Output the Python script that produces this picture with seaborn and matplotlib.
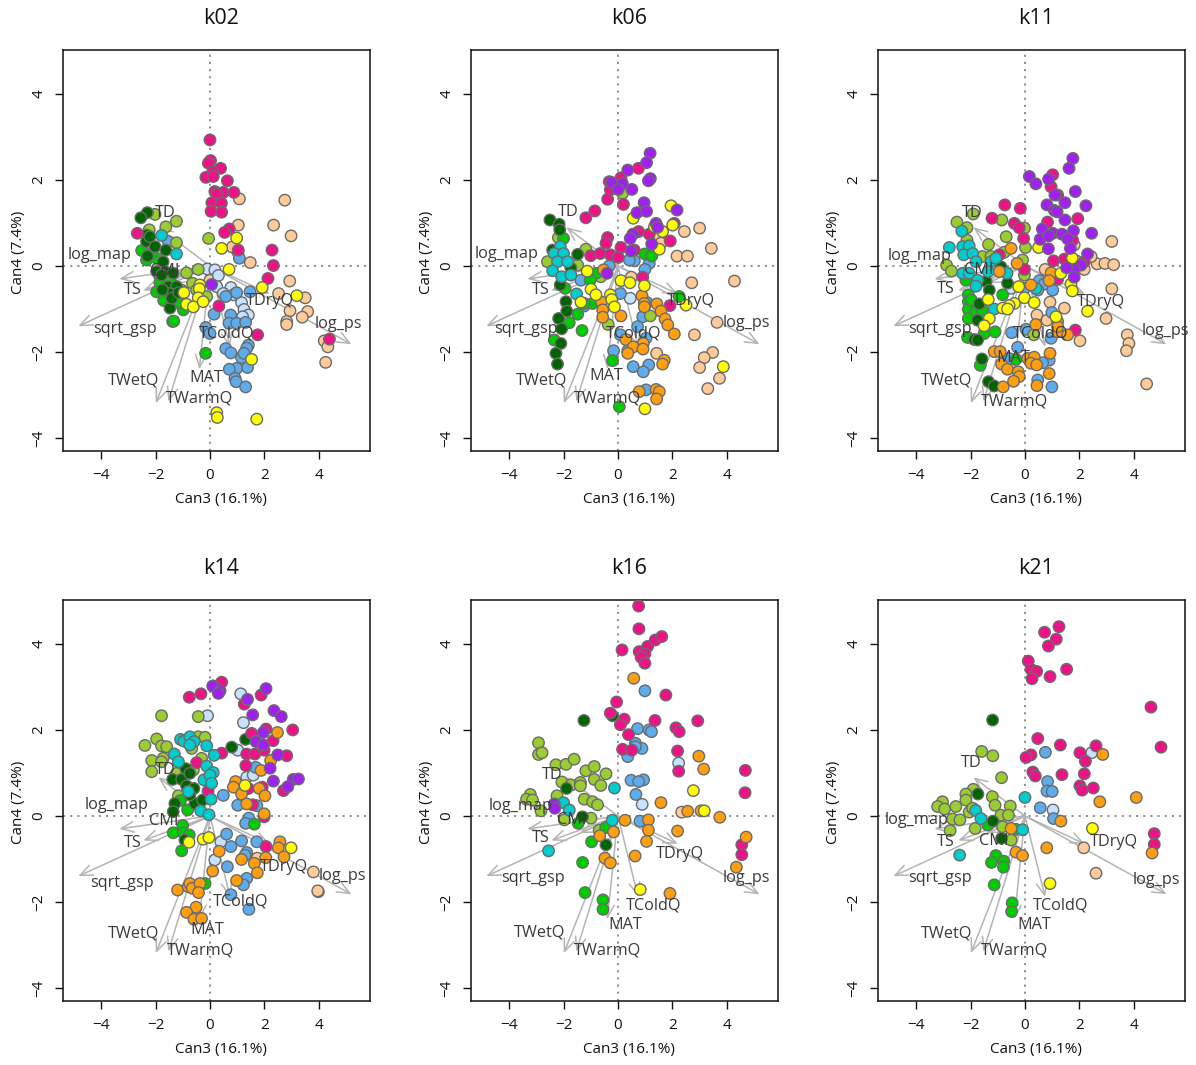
import pandas as pd
import seaborn as sns
import matplotlib
matplotlib.use("Agg")
import matplotlib.pyplot as plt

# colours of the groups, drawing order is the order here
group_colors = {
    "peach": "#FFCC99",
    "lightblue": "#C6E2FF",
    "steelblue": "#5CACEE",
    "yellowgreen": "#9ACD32",
    "green": "#00CD00",
    "darkgreen": "#006400",
    "deeppink": "#EE1289",
    "cyan": "#00CDCD",
    "orange": "#FF9F0F",
    "yellow": "#FFFF00",
    "purple": "#A020F0",
}

# k02
k02_peach = [(1.08,1.56),(2.75,1.53),(1.04,.95),(2.34,.95),(2.98,.7),(.82,.44),(1.03,.32),(1.48,.08),(0,-.33),(2.93,-.35),(2.52,-.64),(3.5,-.74),(2.94,-1.04),(3.59,-1.06),(3.39,-1.19),(2.82,-1.29),(2.82,-1.36),(4.2,-1.74),(4.33,-1.88),(4.25,-2.24)]
k02_lightblue = [(-.1,-.07),(.18,-.09),(.31,-.22),(.25,-.48),(.77,-.5),(.49,-.64),(.86,-.67),(1.16,-.85),(1.25,-1.01),(1.41,-1.14),(1.2,-1.18)]
k02_steelblue = [(-1.53,.57),(1.08,.18),(1.47,-.6),(.98,-.62),(.58,-.71),(.15,-1.12),(.76,-1.14),(.7,-1.33),(.98,-1.33),(1.31,-1.31),(-.15,-1.43),(0,-1.57),(1.41,-1.84),(1.35,-1.91),(.58,-1.92),(.77,-2.02),(1.16,-2.13),(1.25,-2.03),(1.38,-2.36),(.98,-2.38),(.71,-2.4),(.92,-2.61),(.96,-2.69),(1.31,-2.81)]
k02_yellowgreen = [(-2.02,1.2),(-1.23,1.04),(-1.62,.91),(-1.23,.54),(-.05,.64),(-.86,-.16),(-.43,-.08),(-.64,-.4),(-.49,-.56),(-1.04,-.56),(-.12,-.71),(-2.23,.84)]
k02_green = [(-2.51,.36),(-2.33,.14),(-1.96,.18),(-1.84,-.25),(-1.96,-.6),(-1.59,-.71),(-1.37,-1.29),(-.16,-2.03),(-.98,-1.02),(-1.29,-.71),(-1.84,-.4),(-1.47,-.33),(-1.33,-1.28),(-1.7,-.8),(-1.45,-.95),(-1.1,-.85),(-2.15,.3)]
k02_darkgreen = [(-2.3,1.24),(-2.54,1.12),(-2.33,.72),(-2.33,.57),(-2.02,.45),(-1.62,.37),(-2.29,.23),(-1.72,.1),(-1.96,-.13),(-1.65,-.13),(-1.35,-.17),(-1.53,-.48),(-1.23,-.48),(-1.47,-.98),(-1.78,-.21),(-1.47,-.64),(-2.21,.68),(-1.4,-.75),(-1.15,-.62),(-1.75,-.55)]
k02_deeppink = [(0,2.93),(.02,2.45),(-.06,2.39),(.39,2.27),(.1,2.19),(-.15,2.06),(.12,2.08),(.64,1.98),(.18,1.73),(.49,1.71),(.88,1.71),(.25,1.67),(.07,1.47),(.42,1.46),(.04,1.27),(.43,1.25),(-2.67,.76),(.71,.86),(.54,.78),(2.28,.37),(2.33,.01),(2.13,-.29),(.33,-.93),(1.75,-1.6),(4.39,-1.7),(1.04,.37)]
k02_cyan = [(-1.78,.71),(-1.23,.28)]
k02_orange = []
k02_yellow = [(.98,.65),(.43,.41),(.7,-.08),(1.92,-.5),(3.19,-.69),(-.37,-.44),(-.39,-.53),(-.96,-.62),(-.43,-.74),(-.86,-.89),(-.61,-.95),(-.25,-.83),(1.53,-2.17),(.25,-3.41),(.27,-3.52),(1.72,-3.56)]
k02_purple = [(.06,-.43)]

# k06
k06_peach = [(2.44,.8),(3,.88),(3.43,.41),(2.17,.23),(2.55,.23),(1.52,.68),(1.58,.53),(.49,-.26),(2.71,-.39),(4.28,-.35),(3.64,-1.31),(2.81,-1.6),(1.42,-2.03),(3.48,-2.01),(3.17,-2.13),(3,-2.36),(3.73,-2.61),(3.3,-2.85)]
k06_lightblue = [(.45,-.75)]
k06_steelblue = [(.6,.12),(.42,.14),(1.15,.06),(.99,-.08),(-.32,0),(-1.36,-.33),(.09,-.64),(-1.24,-.93),(1.07,-.85),(.91,-1.18),(.72,-1.41),(.09,-1.6),(1.03,-1.68),(-.16,-1.97),(.56,-2.34),(1.13,-2.3),(.93,-2.46),(1.03,-2.88),(.36,-1.97)]
k06_yellowgreen = [(.17,1.69),(-2.19,.66),(-1.18,.39),(-2.59,.1),(-.63,-.25),(-1.48,.02),(1.19,-1.16),(-.36,-1.36),(-2.34,.3)]
k06_green = [(-2,.64),(.99,.28),(1.24,.23),(-.81,-.17),(-1.02,-.33),(-1.94,-.52),(-1.48,-1.12),(-.93,-.87),(-1.24,-.87),(-1.79,-1.32),(-1.32,-1.5),(-2.34,-1.72),(-.2,-2.2),(.05,-3.27),(2.25,-.71)]
k06_darkgreen = [(-2.5,1.07),(-2.16,.97),(-2.14,.84),(-2.4,.37),(-1.48,.27),(-1.73,-.05),(-2.12,-.44),(-1.91,-.83),(-1.88,-1.05),(-2.18,-1.22),(-2.07,-1.46),(-2.1,-1.8),(-2.28,-2.03),(-2.22,-2.28)]
k06_deeppink = [(.11,2.05),(.75,2.27),(-.32,1.96),(-.28,1.77),(-.38,1.55),(.2,1.43),(-.85,1.28),(-1.18,1.12),(2.07,.99),(.76,.8),(1.15,.74),(1.92,.58),(-.38,.66),(-.44,.53),(.11,.43),(-1,.24),(-.65,.29),(-.28,.26),(.01,.2),(.6,.37),(.91,-.26),(1.91,-.92)]
k06_cyan = [(-2.12,.45),(-2.34,.29),(-2,.29),(-2.22,.1),(-1.85,.1),(-2.4,-.11),(-2.07,-.25),(-1.73,-.21),(-1.52,-.65)]
k06_orange = [(-.53,-.09),(.88,-.69),(.97,-.87),(.97,-.95),(1.43,-.88),(1.58,-1.05),(-.6,-.84),(-.56,-1.02),(-.56,-1.19),(.11,-1.16),(1.73,-1.23),(1.83,-1.37),(2.07,-1.58),(.29,-1.71),(.93,-1.8),(.56,-1.88),(.36,-2.03),(.92,-1.93),(1.7,-2.19),(1.64,-2.28),(.78,-2.92),(1.4,-2.87),(1.52,-2.92),(1.42,-3.09)]
k06_yellow = [(1.95,1.4),(2.01,.95),(.56,1.11),(1.34,.91),(1.64,.8),(1.52,.39),(-1.13,-.12),(.11,-.34),(.44,-.39),(.97,-.46),(-.99,-.54),(-.81,-.67),(-1.36,-.84),(-.28,-.67),(-.23,-.78),(-.13,-.95),(2.5,-.91),(3.87,-2.34),(.99,-3.32)]
k06_purple = [(1.18,2.62),(1.05,2.4),(.36,2.23),(1.19,2.03),(1.12,1.98),(-.23,1.94),(.16,1.92),(.01,1.78),(.51,1.78),(.96,1.47),(.7,1.24),(1.05,1.27),(2.17,1.3),(1.4,.99),(1.46,.9),(.55,.74),(.45,.64),(1.24,.51),(.48,.35),(-.4,-.17)]

# k11
k11_peach = [(3.19,.57),(1.81,.49),(1.88,.12),(2.18,-.08),(2.65,.05),(2.94,.06),(3.26,.03),(2.43,.22),(.74,-.08),(3.19,-.53),(.92,-.84),(1.45,-.98),(.44,-1.14),(.81,-1.26),(2.98,-1.22),(3.76,-1.6),(3.82,-1.8),(3.73,-1.97),(2.02,-1.74),(4.47,-2.74)]
k11_lightblue = [(-.51,-.52)]
k11_steelblue = [(.53,-.34),(.71,-.42),(1.02,-.56),(.47,-.56),(.99,-1.08),(.04,-1.47),(-.49,-1.55),(-.27,-1.89),(.96,-1.68),(.89,-2.19),(.65,-2.25),(-.58,-2.15),(.47,-2.65),(.99,-2.81),(-.02,-.52)]
k11_yellowgreen = [(-1.9,1.21),(-2.5,1.02),(-2.13,.89),(-.85,1.07),(-.02,.88),(-.69,.68),(-2.13,.6),(-1.34,.5),(.02,.43),(-.76,.32),(-1.56,.22),(-1.25,.22),(-.09,.14),(-2.88,.02),(-2.7,-.12),(-.02,-.21),(.32,-1.6)]
k11_green = [(-2.17,-.33),(-2.08,-.67),(-2.08,-.83),(-2.08,-1.01),(-1.8,-1.06),(-2.08,-1.22),(-.82,-.67),(-1.5,-1.57),(-1.1,-1.53),(-2.11,-1.66),(-1.64,-2.31),(-.33,-2.17),(-1.56,-1.02),(-1.97,-.79)]
k11_darkgreen = [(-.88,-.02),(-1.43,-.36),(-.64,-.4),(-1.31,-.56),(-1.68,-.88),(-1.74,-1.26),(-1.86,-1.71),(-1.74,-1.72),(-1.58,-2.16),(-1.34,-2.69),(-1.13,-2.79)]
k11_deeppink = [(1.02,2.12),(.96,1.84),(1.2,1.65),(-.74,1.42),(-.17,1.34),(-1.21,1.11),(-.39,.99),(-.21,.89),(-.05,.64),(.83,1.02),(1.94,1.1),(-.94,.26),(-.02,-.08),(1.05,.12),(1.45,.16),(1.2,-.31),(1.85,-1.49),(2.18,.1),(1.75,.6)]
k11_cyan = [(-2.78,.43),(-2.32,.81),(-2.29,.45),(-2.05,.47),(-2.25,.26),(-1.92,.29),(-1.8,.1),(-2.29,-.17),(-2.05,-.17),(-1.74,-.33),(-1.8,-.47),(-1.25,.1),(-1.07,.18),(-.66,-.17),(-1.13,-1),(-1.35,-.13),(.4,-.52)]
k11_orange = [(-.51,.41),(-.29,.06),(-.94,-.13),(.22,-.44),(.96,-.16),(.89,-.34),(1.2,-1.29),(.4,-1.36),(1.2,-1.53),(1.57,-1.6),(-1.13,-1.99),(-.91,-1.99),(.92,-2.03),(.1,-2.15),(.34,-2.12),(.22,-2.26),(.43,-2.3),(-.86,-2.28),(-.64,-2.4),(-.25,-2.46),(-.21,-2.57),(-.42,-2.68),(-.8,-2.81),(.44,-2.78),(.89,-2.5),(1.2,-1.41)]
k11_yellow = [(.5,.43),(1.74,.18),(1.32,-.17),(1.69,-.42),(1.74,-.58),(-.23,-.48),(-.02,-.74),(.34,-.85),(2.3,-1.05),(-1.35,-.78),(-.39,-.87),(-.58,-.92),(-.82,-.98),(-.64,-1),(-1.31,-1.22),(-1.5,-1.39),(1.14,-1.18)]
k11_purple = [(1.76,2.5),(1.62,2.27),(.16,2.08),(.4,1.91),(.87,2.02),(1.1,1.65),(1.85,1.73),(1.47,1.47),(.81,1.42),(1.08,1.29),(1.18,1.26),(2.24,1.4),(1.47,1.07),(.64,.86),(1.02,.76),(.56,.62),(.87,.7),(1.36,.74),(1.78,.82),(2.45,.76),(1.57,.63),(1.67,.41),(.86,.4),(2.3,.28),(2.06,.02),(1.81,-.08),(1.53,-.04),(1.81,-.26)]

# k14
k14_peach = [(1.74,-.98),(3.8,-1.3),(3.98,-1.76),(3.96,-1.74)]
k14_lightblue = [(1.13,2.84),(-.09,2.33),(1.23,2.17),(1.02,1.53),(1.35,.9),(1.59,.95),(.4,-.6),(.18,-1.02)]
k14_steelblue = [(.49,.48),(1.68,1.13),(1.02,.25),(1.72,.24),(1.43,-.05),(1.31,-.17),(.61,-.42),(1.16,-.58),(1.72,-.6),(.77,-.71),(1.35,-.85),(1.29,-.91),(.64,-1.18),(1.35,-1.45),(1.23,-1.6),(.77,-1.83),(1.43,-2.17)]
k14_yellowgreen = [(-1.78,2.33),(-.43,2.31),(-2.39,1.64),(-1.96,1.79),(-1.78,1.63),(-1.59,1.61),(-2.14,1.29),(-1.72,1.34),(-1.78,1.26),(-2.14,1.03),(-.43,1.84),(-.18,1.83),(-.67,1.57),(-.31,1.34),(-1.23,.99),(-.61,1.07),(-1.16,.47)]
k14_green = [(-1.08,.36),(-.82,.14),(-1,-.22),(-1.35,-.39),(-.98,-.39),(-.76,-.44),(-1.04,-.81),(1.63,-.19),(-.18,-1.57)]
k14_darkgreen = [(.8,1.6),(1.31,1.78),(-.89,1.1),(-1.37,.85),(-1.04,.85),(-.74,.99),(-.86,.7),(-.59,.64),(-1.29,.29),(-.55,.29),(-.27,.37),(-1.35,.1),(-.92,-.56),(-.74,.49)]
k14_deeppink = [(.43,3.11),(-.76,2.76),(-.33,2.84),(.12,3.02),(1.26,2.6),(1.88,2.81),(3.04,2),(1.53,1.92),(2.06,2.02),(2.32,1.75),(1.35,1.44),(1.65,1.44),(1.99,1.53),(2.82,1.4),(.43,1.46),(1.32,1.17),(-.49,1.24),(-.07,.58),(1.41,.64),(1.92,.67),(2.7,.59),(1.57,.26),(1.99,-.02),(2.06,-.71)]
k14_cyan = [(-1.08,1.78),(-.96,1.74),(-.74,1.84),(-.58,1.73),(-.74,1.65),(-.12,1.63),(-1.31,1.44),(-1.16,1.26),(.15,1.41),(-.12,1.16),(.12,1.01),(-.22,.84),(0,.95),(.06,.76),(-.8,.57),(.04,.39),(-.34,.12),(-.04,.03)]
k14_orange = [(2.48,1.94),(2.23,1.29),(1.88,1.06),(.94,.8),(.86,.67),(1.16,.51),(1.81,.64),(2.02,.47),(1.35,.28),(1.99,.05),(2.57,-.6),(2.51,-.74),(2.72,-.95),(.34,-.82),(1.16,-1.01),(2.05,-.97),(1.63,-1.1),(1.74,-1.32),(.1,-1.28),(.98,-1.5),(-1.19,-1.72),(-.8,-1.64),(-.74,-1.57),(-.65,-1.68),(-.37,-1.57),(-.42,-1.78),(-.51,-2.12),(-.86,-2.24),(-.59,-2.4),(-.31,-2.38)]
k14_yellow = [(1.29,.71),(2.98,-.74),(-.77,-.61),(-.25,-.54),(-.04,-.5)]
k14_purple = [(.1,3.02),(.37,2.91),(.31,2.85),(1.38,2.71),(2.06,2.96),(1.57,2.35),(2.35,2.45),(2.62,2.31),(1.96,1.94),(1.69,1.73),(1.96,1.65),(2.49,1.42),(2.21,1.11),(2.33,.81),(3.06,.85),(3.25,.86),(2.86,.68)]

# k16
k16_peach = [(2.34,.09)]
k16_lightblue = [(2.23,1.23),(.89,.27)]
k16_steelblue = [(.99,2.91),(.72,2.03),(1.14,2),(1.23,1.96),(.64,1.69),(.88,1.57),(.64,1.61),(.36,1.38),(.48,.83),(.94,.84),(.76,.8),(.66,.5),(.81,-.12)]
k16_yellowgreen = [(-2.92,1.7),(-2.92,1.43),(-2.79,1.47),(-2.28,1.19),(-1.91,1.2),(-1.61,1.32),(-1.18,1.05),(-.87,1.15),(-.44,.98),(-.87,.85),(-.63,.71),(-2.06,.79),(-1.73,.72),(-1.38,.78),(-1.38,.7),(-3.22,.5),(-3.36,.39),(-3.14,.37),(-2.24,.47),(-1.24,.39),(-.93,.33),(-.75,.26),(-2.83,.12),(-1.97,-.09),(-.99,-.05),(-.69,-.33)]
k16_green = [(-1.46,-.17),(-.45,-.27),(-.97,-.6),(-1.3,-1.08),(-1.21,-1.78),(-.55,-1.95),(-.55,-2.17)]
k16_darkgreen = [(-1.25,2.22),(-.2,2.33),(-1.89,.64),(-1.3,-.02),(-.44,-.67)]
k16_deeppink = [(.76,4.88),(.77,4.35),(.15,3.86),(.78,3.82),(1.09,3.94),(1.37,4.09),(1.61,4.17),(.99,3.77),(.85,3.69),(.99,3.55),(1.76,2.81),(-.05,2.65),(-.28,2.39),(.23,2.25),(.09,2.12),(1.36,2.22),(2.13,2.05),(2.25,1.96),(2.93,2.21),(.39,1.89),(.17,1.55),(.51,1.53),(2.19,1.51),(2.23,1.04),(4.68,1.06),(4.67,.54),(4.55,-.67),(4.55,-.9)]
k16_cyan = [(-.13,.65),(-2,.31),(-1.79,.14),(-.21,-.1),(-2.55,-.81)]
k16_orange = [(.58,3.2),(2.97,1.39),(3.15,1.09),(1.58,.31),(2.56,.11),(3.05,.12),(3.74,-.03),(.26,-.1),(1.12,-.09),(1.12,-.33),(1.05,-.59),(2.19,-.35),(-.16,-.37),(-.67,-.46),(-.48,-.98),(-.28,-1.09),(.63,-.93),(1.91,-1.8),(4.71,-.49),(4.35,-1.19)]
k16_yellow = [(2.77,.59),(3.17,.12),(.82,-1.71)]
k16_purple = [(-2.34,.28),(-2.32,.18)]

# k21
k21_peach = [(2.16,-.74),(2.61,-1.33)]
k21_lightblue = [(2.45,1.47),(1.03,.14)]
k21_steelblue = [(.75,1.48),(.83,.8),(.81,.58),(1,.57),(.56,.19),(1.05,-.06)]
k21_yellowgreen = [(-1.59,1.5),(-1.18,1.4),(-.86,.89),(-1.9,.62),(-2.17,.51),(-2.17,.37),(-1.2,.45),(-1.1,.25),(-.54,.23),(-3.03,.33),(-3.21,.22),(-2.95,.16),(-2.54,.22),(-2.05,.09),(-1.92,.18),(-.88,.02),(-.61,.02),(-2.66,-.07),(-2.39,-.09),(-2.75,-.34),(-1.83,-.29),(-.82,-.25),(-.51,-.56)]
k21_green = [(-1.37,-.21),(-.33,-.31),(-1.07,-.92),(-1.23,-1.08),(-.78,-1.05),(-.79,-1.19),(-1.13,-1.6),(-.47,-2.02),(-.49,-2.22)]
k21_darkgreen = [(-1.19,2.23),(-1.73,.51),(-1.18,-.12),(-.86,-.52)]
k21_deeppink = [(1.25,4.4),(.72,4.27),(1.15,4.11),(.86,3.95),(.12,3.6),(.22,3.41),(.43,3.36),(.26,3.19),(.92,3.24),(1.53,3.41),(4.63,2.53),(5,1.6),(.47,1.8),(1.3,1.65),(2.61,1.63),(.22,1.42),(.04,1.36),(2.02,1.47),(2.22,1.27),(.29,1.02),(.38,.93),(1.36,.96),(2.18,.98),(2.02,.7),(2.1,.6),(2.51,.65),(4.75,-.41),(4.75,-.66)]
k21_cyan = [(0,.43),(-1.81,.13),(-1.62,-.06),(-.09,-.32),(-2.4,-.91)]
k21_orange = [(2.86,1.43),(2.75,.33),(4.09,.43),(1.32,-.12),(-.51,-.29),(.8,-.74),(-.33,-.84),(-.09,-.92),(4.67,-.86)]
k21_yellow = [(2.48,-.29),(.92,-1.57)]
k21_purple = []

panel_names = ["k02", "k06", "k11", "k14", "k16", "k21"]

# biplot arrows, same in every panel
arrow_names = ["log_map", "TS", "CMI", "sqrt_gsp", "TD", "TWetQ", "TWarmQ", "MAT", "TColdQ", "TDryQ", "log_ps"]
arrow_x = [-3.33, -2.45, -1.4, -4.84, -1.9, -1.99, -1.53, -0.39, 0.74, 2.2, 5.2]
arrow_y = [-0.3, -0.57, -0.4, -1.4, 0.9, -3.19, -3.15, -2.4, -1.88, -0.65, -1.82]

# label centres per panel
k02_labels = {"TD": (-1.65,1.23), "log_map": (-4.04,.26), "CMI": (-1.65,-.12), "TS": (-2.83,-.56), "sqrt_gsp": (-3.13,-1.47), "TWetQ": (-2.79,-2.67), "MAT": (-.15,-2.6), "TWarmQ": (-.37,-3.09), "TColdQ": (.63,-1.58), "TDryQ": (2.2,-.81), "log_ps": (4.7,-1.35)}
k06_labels = {"TD": (-1.84,1.26), "log_map": (-4.08,.28), "TS": (-2.83,-.56), "sqrt_gsp": (-3.38,-1.47), "TWetQ": (-2.79,-2.67), "MAT": (-.44,-2.56), "TWarmQ": (-.4,-3.09), "TColdQ": (.59,-1.56), "TDryQ": (2.68,-.81), "log_ps": (4.7,-1.33)}
k11_labels = {"TD": (-1.95,1.23), "log_map": (-3.86,.23), "CMI": (-1.69,-.09), "TS": (-2.9,-.53), "sqrt_gsp": (-3.13,-1.47), "TWetQ": (-2.87,-2.67), "MAT": (-.44,-2.14), "TWarmQ": (-.37,-3.14), "TColdQ": (.59,-1.58), "TDryQ": (2.79,-.84), "log_ps": (5.15,-1.51)}
k14_labels = {"TD": (-1.65,1.07), "log_map": (-3.42,.26), "CMI": (-1.69,-.12), "TS": (-2.83,-.63), "sqrt_gsp": (-3.24,-1.56), "TWetQ": (-2.79,-2.72), "MAT": (-.11,-2.65), "TWarmQ": (-.33,-3.12), "TColdQ": (1.14,-1.98), "TDryQ": (2.72,-1.19), "log_ps": (4.85,-1.4)}
k16_labels = {"TD": (-2.43,.95), "log_map": (-3.57,.23), "CMI": (-1.69,-.09), "TS": (-2.83,-.51), "sqrt_gsp": (-3.13,-1.44), "TWetQ": (-2.87,-2.7), "MAT": (.26,-2.53), "TWarmQ": (-.37,-3.12), "TColdQ": (1.32,-2.09), "TDryQ": (2.28,-.88), "log_ps": (4.7,-1.44)}
k21_labels = {"TD": (-1.99,1.23), "log_map": (-3.97,-.09), "CMI": (-1.14,-.58), "TS": (-2.9,-.6), "sqrt_gsp": (-3.13,-1.44), "TWetQ": (-2.87,-2.72), "MAT": (.33,-2.53), "TWarmQ": (-.4,-3.12), "TColdQ": (1.32,-2.07), "TDryQ": (3.27,-.6), "log_ps": (4.82,-1.49)}

sns.set_style("ticks")
plt.rcParams["font.family"] = ["Open Sans", "DejaVu Sans"]

W, H = 1196, 1065
fig = plt.figure(figsize=(W / 100, H / 100), dpi=100)

lefts = [63, 471, 878]
tops = [50, 600]
text_gray = "#3a3a3a"
arrow_gray = "#b4b4b4"

for i, name in enumerate(panel_names):
    left = lefts[i % 3]
    top = tops[i // 3]
    ax = fig.add_axes([left / W, 1 - (top + 401) / H, 307 / W, 401 / H])

    # collect the groups of this panel from the named lists above
    rows = []
    for group in group_colors:
        for px, py in globals()[name + "_" + group]:
            rows.append({"x": px, "y": py, "group": group})
    df = pd.DataFrame(rows)

    ax.axhline(0, color="#7f7f7f", lw=1.2, ls=(0, (1.3, 3)), zorder=1)
    ax.axvline(0, color="#7f7f7f", lw=1.2, ls=(0, (1.3, 3)), zorder=1)

    for ax_x, ax_y in zip(arrow_x, arrow_y):
        ax.annotate("", xy=(ax_x, ax_y), xytext=(0, 0), zorder=2,
                    arrowprops=dict(arrowstyle="->,head_length=0.9,head_width=0.38",
                                    color=arrow_gray, lw=1.1, shrinkA=0, shrinkB=0))

    sns.scatterplot(data=df, x="x", y="y", hue="group", palette=group_colors,
                    s=68, edgecolor="#6b6b6b", linewidth=1.0, legend=False,
                    zorder=3, ax=ax)

    for label, (tx, ty) in globals()[name + "_labels"].items():
        ax.text(tx, ty, label, fontsize=11.7, color=text_gray, ha="center", va="center", zorder=4)

    ax.set_xlim(-5.4, 5.88)
    ax.set_ylim(-4.3, 5.02)
    ax.set_xticks([-4, -2, 0, 2, 4])
    ax.set_yticks([-4, -2, 0, 2, 4])
    ax.tick_params(axis="both", length=6, width=1, color="#111111", labelsize=11, pad=6, labelcolor="#111111")
    plt.setp(ax.get_yticklabels(), rotation=90, va="center")
    for side in ax.spines.values():
        side.set_visible(True)
        side.set_linewidth(1.1)
        side.set_color("#111111")

    ax.set_xlabel("Can3 (16.1%)", fontsize=11, color="#111111", labelpad=7, x=0.515)
    ax.set_ylabel("Can4 (7.4%)", fontsize=11, color="#111111", labelpad=4, y=0.495)
    ax.set_title(name, fontsize=15.5, color="#111111", x=0.515, pad=19)

fig.savefig("out.png", dpi=100)
